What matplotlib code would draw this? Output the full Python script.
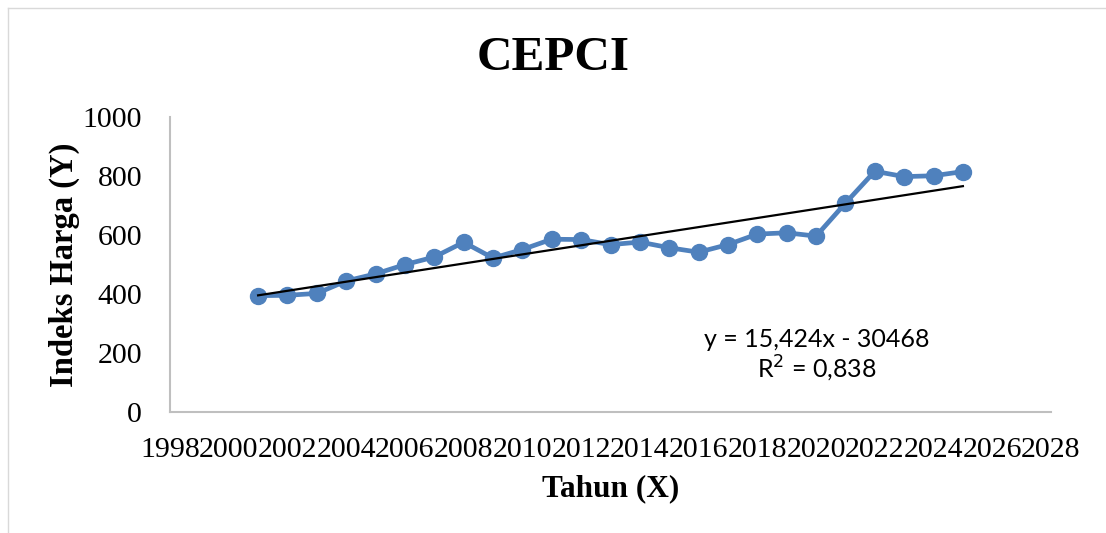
import numpy as np
import matplotlib
matplotlib.use('Agg')
import matplotlib.pyplot as plt
from matplotlib.lines import Line2D

# CEPCI values
years = [2001, 2002, 2003, 2004, 2005, 2006, 2007, 2008, 2009, 2010, 2011, 2012, 2013,
         2014, 2015, 2016, 2017, 2018, 2019, 2020, 2021, 2022, 2023, 2024, 2025]
cepci = [394.3, 395.6, 402.0, 444.2, 468.2, 499.6, 525.4, 575.4, 521.9, 550.8, 585.7, 584.6, 567.3,
         576.1, 556.8, 541.7, 567.5, 603.1, 607.5, 596.2, 708.0, 816.0, 797.9, 800.8, 815.0]

# linear trend as printed on the chart
slope = 15.424
intercept = -30468
eq_text = "y = 15,424x - 30468\nR$^2$ = 0,838"

x_ticks = list(range(1998, 2029, 2))
y_ticks = [0, 200, 400, 600, 800, 1000]

BLUE = '#4F81BD'
GREY = '#BFBFBF'

plt.rcParams['font.family'] = ['Liberation Serif', 'DejaVu Serif']

fig = plt.figure(figsize=(11.06, 5.33), dpi=100)
ax = fig.add_axes([170 / 1106, 121 / 533, 881 / 1106, 295 / 533])

ax.plot(years, cepci, color=BLUE, linewidth=3.4, marker='o', markersize=11.5,
        markerfacecolor=BLUE, markeredgecolor=BLUE, zorder=2)

trend_x = np.array([years[0], years[-1]])
ax.plot(trend_x, slope * trend_x + intercept, color='black', linewidth=1.6, zorder=3)

ax.set_xlim(1998, 2028)
ax.set_ylim(0, 1000)
ax.set_xticks(x_ticks)
ax.set_yticks(y_ticks)
ax.tick_params(axis='both', length=0, labelsize=21.5)
ax.tick_params(axis='x', pad=18)
ax.tick_params(axis='y', pad=20)

for side in ['top', 'right']:
    ax.spines[side].set_visible(False)
for side in ['left', 'bottom']:
    ax.spines[side].set_color(GREY)
    ax.spines[side].set_linewidth(1.5)

ax.set_xlabel('Tahun (X)', fontsize=22.5, fontweight='bold', labelpad=8)
ax.set_ylabel('Indeks Harga (Y)', fontsize=23.5, fontweight='bold', labelpad=2)

fig.text(553 / 1106, 1 - 58 / 533, 'CEPCI', fontsize=35.5, fontweight='bold',
         ha='center', va='center')

fig.text(817 / 1106, 1 - 356 / 533, eq_text, fontsize=18,
         family=['Lato', 'DejaVu Sans'], ha='center', va='center', linespacing=1.15)

# outer chart border
fig.add_artist(Line2D([8 / 1106, 8 / 1106], [0, 1 - 8 / 533], transform=fig.transFigure,
                      color='#D9D9D9', linewidth=1))
fig.add_artist(Line2D([8 / 1106, 1], [1 - 8 / 533, 1 - 8 / 533], transform=fig.transFigure,
                      color='#D9D9D9', linewidth=1))

fig.savefig('out.png', dpi=100)
